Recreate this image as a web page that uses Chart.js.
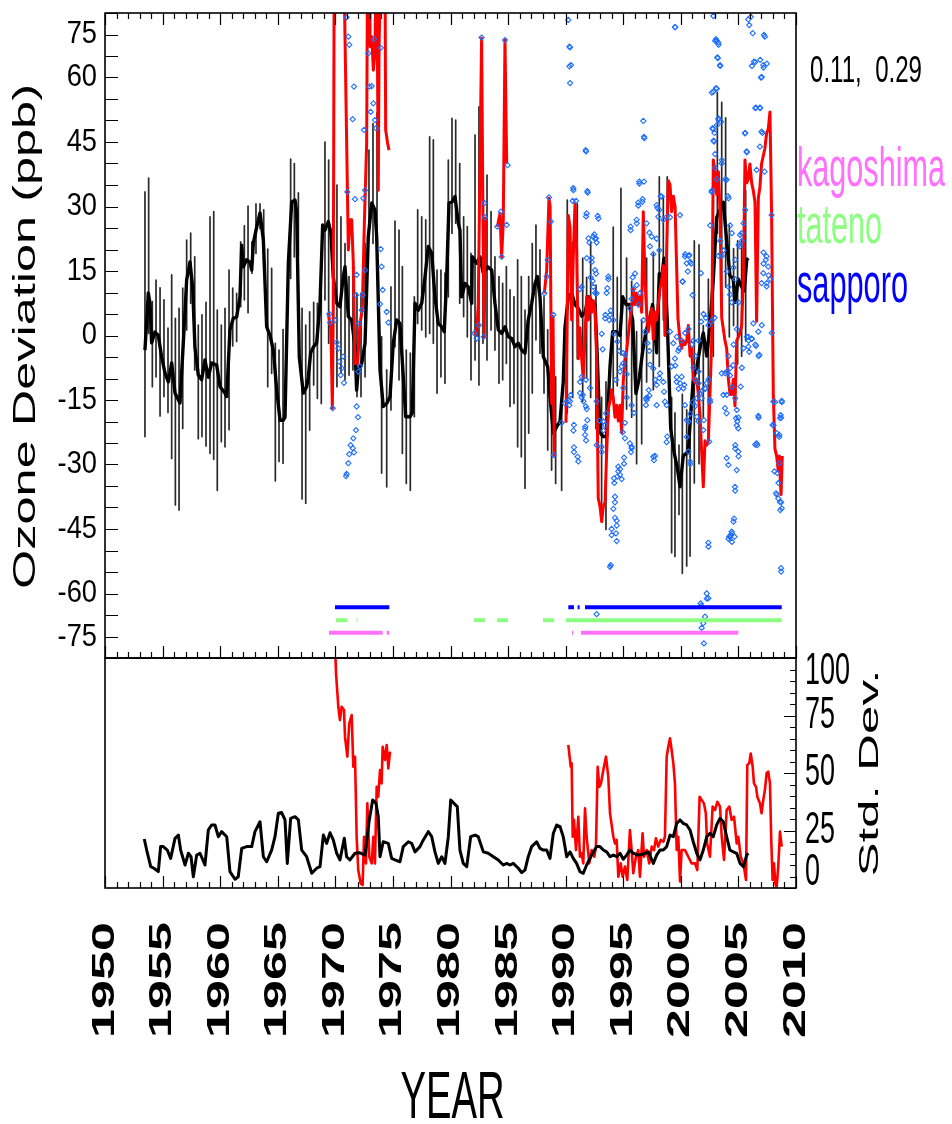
<!DOCTYPE html>
<html>
<head>
<meta charset="utf-8">
<script src="https://cdn.jsdelivr.net/npm/chart.js@4.4.1/dist/chart.umd.min.js"></script>
<style>
  body { margin: 0; background: #fff; }
  #wrap { position: relative; width: 952px; height: 1124px; }
  #wrap canvas { position: absolute; left: 0; top: 0; }
</style>
</head>
<body>
<div id="wrap">
  <canvas id="dev" width="952" height="1124"></canvas>
  <canvas id="sd" width="952" height="1124"></canvas>
</div>
<script>
/* ---- data ---- */

const yearTicks = [1950, 1955, 1960, 1965, 1970, 1975, 1980, 1985, 1990, 1995, 2000, 2005, 2010];
const devTicks = [-75, -60, -45, -30, -15, 0, 15, 30, 45, 60, 75];
const sdTicks = [0, 25, 50, 75, 100];
const corrLabel = '0.11,  0.29';

const stationNames = ['kagoshima', 'tateno', 'sapporo'];
const stationColors = ['#ff70ff', '#8cff80', '#0000ff'];
const stationLevels = [-69.1, -66.2, -63.2];
const kagoshimaSpans = [[1969.45, 1974.11], [1974.46, 1974.69], [1990.55, 1990.66], [1991.33, 2004.99]];
const tatenoSpans = [[1970.06, 1971.04], [1971.85, 1971.94], [1982.04, 1982.99], [1984.04, 1984.99], [1988.03, 1988.99], [1990.03, 2008.76]];
const sapporoSpans = [[1969.97, 1974.69], [1990.23, 1990.72], [1991.04, 1991.21], [1991.68, 2008.76]];

// smoothed deviation (black)
const blackDev = [
  [1953.47,-3.4],[1953.76,9.9],[1953.91,7.5],[1954.05,-1.7],[1954.34,0.8],[1954.63,0],[1954.92,-5],[1955.21,-8.7],
  [1955.50,-10.8],[1955.79,-6.4],[1956.08,-13.4],[1956.51,-15.7],[1956.80,-1.7],[1957.09,12.9],[1957.38,17.1],
  [1957.61,11.3],[1957.81,-2.7],[1958.10,-9.2],[1958.39,-10.3],[1958.68,-5.7],[1958.97,-9.7],[1959.26,-6.4],
  [1959.70,-6.9],[1959.99,-11.9],[1960.42,-13.4],[1960.57,-14.2],[1960.85,1.3],[1961.14,4],[1961.43,4.3],
  [1961.72,9],[1961.87,21],[1962.01,16],[1962.30,17.6],[1962.59,17],[1962.74,15.2],[1962.88,21.5],[1963.17,25.2],
  [1963.46,28.5],[1963.75,22.2],[1964.04,2],[1964.33,0],[1964.62,-3.4],[1964.91,-12.7],[1965.20,-19.7],
  [1965.48,-19.7],[1965.63,-19],[1965.92,16.9],[1966.21,31],[1966.50,31.5],[1966.64,28.7],[1966.87,-5],
  [1967.22,-13.4],[1967.51,-11.9],[1967.65,-9.7],[1967.86,-4],[1968.09,-2.7],[1968.38,-1.7],[1968.67,7.5],
  [1968.90,25.7],[1969.10,24.5],[1969.39,26.5],[1969.62,23.8],[1969.82,13.7],[1970.12,7.5],[1970.40,6.7],
  [1970.69,13.7],[1970.84,16],[1970.99,9.8],[1971.13,4.4],[1971.42,3.6],[1971.71,-2.6],[1971.85,-12.7],
  [1971.99,-8],[1972.29,-6.5],[1972.58,-1.8],[1972.86,23],[1973.16,30.8],[1973.44,29.2],[1973.59,23],
  [1973.88,-8],[1974.16,-16.5],[1974.46,-15.8],[1974.75,-14.2],[1975.03,-1.8],[1975.33,3.6],[1975.61,2.8],
  [1975.90,-9.6],[1976.11,-18.9],[1976.48,-18.9],[1976.68,-18],[1976.92,7.5],[1977.20,5.9],[1977.50,7.5],
  [1977.79,13.7],[1978.07,20.7],[1978.37,19.1],[1978.65,9],[1978.94,2.8],[1979.24,2],[1979.46,0.9],
  [1979.67,13.7],[1979.87,30.8],[1980.16,31.1],[1980.39,32.3],[1980.68,26.1],[1980.82,24.5],[1980.97,9],
  [1981.26,12.1],[1981.54,11.3],[1981.84,7.5],[1981.89,18.3],[1982.27,16.8],[1982.56,18.3],[1982.85,14.5],
  [1983.23,16],[1983.58,15.2],[1983.86,7.5],[1984.15,1.3],[1984.44,0.5],[1984.73,2],[1985.02,-0.3],
  [1985.31,-0.7],[1985.60,-2.6],[1985.89,-1.8],[1986.18,-3.4],[1986.47,-4.1],[1986.75,3.6],[1987.05,7.5],
  [1987.34,12.1],[1987.54,13.7],[1987.77,9],[1988.06,-4.9],[1988.44,-7.3],[1988.64,-14.2],[1988.93,-22.7],
  [1989.22,-21.2],[1989.51,-20],[1989.79,-10.8],[1989.94,1.8],[1990.23,9],[1990.52,9.9],[1990.81,7.2],
  [1991.10,6.3],[1991.39,4.5],[1991.68,5.4],[1991.97,9],[1992.26,8.1],[1992.55,7.2],[1992.75,-5.4],
  [1992.98,-22.6],[1993.27,-23.5],[1993.56,-23.5],[1993.85,-7.2],[1994.08,0.9],[1994.37,0.9],[1994.72,0],
  [1994.95,9],[1995.24,7.2],[1995.52,7.2],[1995.82,3.6],[1996.10,-13.5],[1996.39,-9.9],[1996.69,-3.6],
  [1996.97,0.9],[1997.26,3.6],[1997.55,7.2],[1997.90,-4],[1998.13,14.4],[1998.34,13.5],[1998.54,18],
  [1998.82,3.6],[1999.12,-21.7],[1999.41,-27.1],[1999.69,-30.7],[1999.93,-35.2],[2000.21,-28],[2000.65,-27],
  [2000.79,-20.9],[2001.08,-10.2],[2001.38,-7.5],[2001.66,-3],[2001.95,0.6],[2002.25,-4.8],[2002.53,2.3],
  [2002.82,13.1],[2003.11,27.4],[2003.40,29.2],[2003.69,31],[2003.98,22],[2004.26,14],[2004.55,13.1],
  [2004.70,7.7],[2004.99,13.1],[2005.28,11.3],[2005.51,10.4],[2005.72,17.6],[2005.86,18]
];

// vertical spread bars: [year, high, low]
const spreadBars = [
  [1953.47,33.4,-23.5],[1953.79,36.6,0.5],[1954.11,7.9,-11.9],[1954.43,12.9,-9.6],[1954.78,11.1,-18.7],
  [1955.12,8.3,-14.2],[1955.47,1.7,-17.9],[1955.79,14.1,-28.6],[1956.11,4,-39.4],[1956.43,6.3,-40.6],
  [1956.75,11,-21.6],[1957.09,22.2,1.3],[1957.44,23.8,7.5],[1957.79,18.3,-8],[1958.10,2.4,-24],
  [1958.42,4.8,-23.5],[1958.77,7.7,-25.7],[1959.12,27.6,-27.4],[1959.44,28.8,-28.8],[1959.75,5.9,-36],
  [1960.10,2.4,-24.7],[1960.42,6.3,-25.9],[1960.77,15.2,-21.9],[1961.09,11,-2.4],[1961.43,9.8,-1.4],
  [1961.78,21.8,6.7],[1962.10,25.5,8.3],[1962.42,30.1,5.3],[1962.76,21.8,14.5],[1963.11,30.6,19.1],
  [1963.46,30.6,24.9],[1963.78,29.2,16.8],[1964.13,20.1,-11.9],[1964.47,15.6,-8.8],[1964.79,-1.8,-33.8],
  [1965.11,-3.4,-29.3],[1965.46,1.4,-29.7],[1966.12,41,13.3],[1966.44,40,18.3],[1966.79,33.2,18.7],
  [1967.11,6.3,-38],[1967.43,2.4,-39],[1967.77,5.5,-22],[1968.12,7.7,-11.5],[1968.44,7.5,-14.6],
  [1968.78,9.8,-15.8],[1969.10,45,8.3],[1969.42,40.8,-1.8],[1970.14,35,-11.9],[1970.49,27.6,-8.8],
  [1970.84,21.4,-10.3],[1971.19,13.7,-9.2],[1971.53,16.8,-8],[1971.88,9.8,-14.2],[1972.23,9.8,-14.2],
  [1972.58,21.4,-9.6],[1972.92,43.1,24.5],[1973.27,49.3,21.4],[1973.62,51.7,23],[1974.02,-0.3,-32],
  [1974.46,-8,-35.2],[1974.83,11.3,-17.3],[1975.18,26.6,-2.6],[1975.53,24.5,-10.3],[1975.82,16,-27.4],
  [1976.16,-3.4,-34.4],[1976.51,-4.1,-36],[1976.86,9,-18.9],[1977.15,29.2,2.8],[1977.50,27.6,1.3],
  [1977.85,26.9,-0.3],[1978.19,46.2,0.5],[1978.51,45.5,-1.8],[1978.83,15.2,-13.4],[1979.17,15.2,-9.6],
  [1979.52,14.5,-11.1],[1979.81,40.8,9],[1980.13,50.5,23.8],[1980.45,50.1,26.1],[1980.80,40,7.5],
  [1981.14,27.6,4.4],[1981.46,25.3,-0.3],[1981.78,19.1,-10.3],[1982.13,46.6,-5.7],[1982.47,53.2,-11.5],
  [1982.82,29.2,-1.8],[1983.17,37.3,-5.7],[1983.52,28.8,1.3],[1983.86,18.3,-3.4],[1984.21,13.7,-11.1],
  [1984.53,12.1,-10.3],[1984.85,16,-6.5],[1985.17,10.6,-16.5],[1985.51,9,-15.8],[1985.83,17.6,-25.9],
  [1986.15,13.7,-28.2],[1986.47,5.9,-35.5],[1986.79,13.7,-22.7],[1987.10,21.4,-13.4],[1987.42,25.7,-1],
  [1987.77,19.9,-4.1],[1988.12,9,-13.4],[1988.44,1.3,-26.6],[1988.78,-11.9,-31.3],[1989.13,-9.6,-34.4],
  [1989.65,-14.4,-36],[1990.14,31.5,-18],[1990.61,21.6,-14.4],[1991.01,30.6,-5.4],[1991.48,18,-15.3],
  [1991.82,13.5,-9.9],[1992.17,21.6,-14.4],[1992.63,11.7,-21.7],[1993.12,-14.4,-43.3],[1993.50,-10.8,-45.1],
  [1994.13,25.2,-14.4],[1994.48,13.5,-11.7],[1994.80,34.2,-4.5],[1995.29,18,-17.1],[1995.73,12.6,-19],
  [1996.16,0.9,-29.8],[1996.60,3.6,-25.2],[1997.03,18,-10.8],[1997.61,19,-12.6],[1998.13,36.9,-7.2],
  [1998.48,32.4,3.6],[1998.82,36.9,0.9],[1999.20,-14.4,-50.5],[1999.49,-18,-51.4],[1999.84,-25.5,-41.6],
  [2000.13,-13.7,-55.3],[2000.51,-17.3,-53.6],[2000.80,-19.1,-51.3],[2001.17,22,-34.3],[2001.58,21.1,-29.8],
  [2001.95,2.3,-19.1],[2002.39,13.1,-24.5],[2002.82,23.8,-4.8],[2003.17,56.5,23.8],[2003.55,54.2,4.1],
  [2003.89,50.6,11.3],[2004.21,25.6,-0.3],[2004.58,20.2,2.3],[2004.93,22,-6.6],[2005.28,22,-4.8],
  [2005.63,33.7,-1.2]
];

// station deviation (red), null = gap
const redDev = [
  [1969.39,5.2],[1969.62,1.3],[1969.74,-16.9],[1969.82,5.9],[1969.91,95],[1970.69,95],[1971.13,19.9],
  [1971.27,26.9],[1971.42,26.9],[1971.56,16.8],[1971.71,-6.5],[1971.94,-6.5],[1972.14,2.8],[1972.34,5.9],
  [1972.52,26.1],[1972.72,44.7],[1972.81,95],[1972.95,90],[1973.01,67.2],[1973.16,69.5],[1973.30,61.7],
  [1973.44,65.6],[1973.59,95],[1973.73,33.8],[1973.80,68],[1974.02,95],[1974.30,95],[1974.37,47.8],
  [1974.54,44.7],[1974.66,43.1],[1978,null],
  [1982.07,0.9],[1982.27,0.1],[1982.41,7.5],[1982.70,69.1],[1982.82,27.6],[1982.93,-0.3],[1983.03,27.6],[1983.5,null],
  [1984.07,25.3],[1984.30,28.4],[1984.44,18.3],[1984.58,26.1],[1984.73,68.7],[1984.88,40],[1986,null],
  [1988.15,9.8],[1988.35,15.2],[1988.55,31.9],[1988.65,30],[1988.78,-15.8],[1988.90,4.4],[1989.01,-28.2],[1989.5,null],
  [1990.03,-20.3],[1990.23,27.9],[1990.38,25.2],[1990.52,3.6],[1990.66,18],[1990.81,30.6],[1990.95,20.7],
  [1991.10,-5.4],[1991.24,1.8],[1991.39,-5.4],[1991.53,-9.9],[1991.68,0],[1991.82,9],[1991.97,3.6],
  [1992.11,9],[1992.26,5.4],[1992.40,8.1],[1992.55,6.3],[1992.69,-5.4],[1992.83,-37.9],[1992.98,-39.7],
  [1993.13,-43.3],[1993.27,-39.7],[1993.42,-38.8],[1993.56,-27.1],[1993.70,-17.1],[1993.85,-15.3],
  [1993.99,-12.6],[1994.13,-14.4],[1994.28,-19],[1994.43,-16.2],[1994.57,-19.9],[1994.72,-16.2],
  [1994.86,-22.6],[1995.00,-10.8],[1995.15,-5.4],[1995.29,-3.6],[1995.44,0],[1995.58,3.6],[1995.73,6.3],
  [1995.87,10.8],[1996.02,7.2],[1996.16,9.9],[1996.31,7.2],[1996.45,9],[1996.60,5.4],[1996.74,28.8],
  [1996.89,12.6],[1997.03,5.4],[1997.18,0.9],[1997.32,3.6],[1997.47,6.3],[1997.61,-0.9],[1997.76,5.4],
  [1997.90,3.6],[1998.04,7.2],[1998.19,10.8],[1998.33,12.6],[1998.48,16.2],[1998.62,0],[1998.77,19.8],
  [1998.91,36],[1999.06,35.1],[1999.20,28.8],[1999.35,32.4],[1999.50,30],[1999.75,4],[1999.93,-1.2],
  [2000.07,-3],[2000.21,-1.2],[2000.36,-2.1],[2000.51,-1.2],[2000.65,2.3],[2000.80,-4.8],[2000.94,-3],
  [2001.08,-10.2],[2001.23,-11],[2001.38,-10.2],[2001.52,-13.7],[2001.66,-18.2],[2001.81,-27.2],
  [2001.95,-35.2],[2002.10,-24.5],[2002.25,-25.5],[2002.39,-24.5],[2002.53,-13.7],[2002.68,-1.2],
  [2002.82,40.8],[2002.97,38.1],[2003.11,32.8],[2003.26,38.1],[2003.40,29.2],[2003.55,4.1],[2003.69,1.5],
  [2003.83,-1.2],[2003.98,-3],[2004.13,-10.2],[2004.27,-13.7],[2004.41,-13.7],[2004.56,-10.2],
  [2004.70,-16.4],[2004.85,-1.2],[2004.99,-0.4],[2005.14,0.6],[2005.28,2.3],[2005.43,13.1],[2005.57,40.8],
  [2005.72,35.5],[2005.86,36.4],[2006.00,39.9],[2006.15,35.5],[2006.29,33.7],[2006.44,31],[2006.58,3.3],
  [2006.73,31.9],[2006.87,34.6],[2007.01,39.9],[2007.16,41.8],[2007.30,43.5],[2007.45,47.1],[2007.59,48],
  [2007.74,52],[2007.88,28.3],[2008.03,-13.7],[2008.17,-26.3],[2008.32,-28.1],[2008.46,-31.5],
  [2008.55,-28],[2008.70,-37],[2008.81,-28]
];

// individual soundings (blue diamonds)
const dots1970s = [
  [1970.98,74],[1971.13,69.5],[1971.21,67.6],[1971.62,57.9],[1971.51,50.3],[1971.71,31.7],[1971.04,33.4],
  [1972.49,47.8],[1972.43,31.9],[1972.58,33.8],[1972.86,65.6],[1972.95,57.9],[1973.16,58],[1973.07,52],
  [1973.30,54],[1973.36,68.9],[1973.44,50.1],[1973.53,48.2],[1973.94,66.9],[1973.94,20.1],[1974.02,16],
  [1974.11,10.6],[1973.88,7.3],[1974.46,5.5],[1974.60,3],[1971.85,14.1],[1971.79,9.4],[1972.08,2.8],
  [1972.29,5.9],[1972.37,9.4],[1972.58,15.2],[1969.48,5],[1969.54,3],[1970.00,3.6],[1970.12,-1.6],
  [1970.26,-3],[1970.35,-6.1],[1970.55,-7.6],[1970.47,-9.2],[1970.75,-11],[1970.69,-4.9],[1969.77,-16.9],
  [1971.85,-16.5],[1971.97,-19],[1971.79,-22],[1971.56,-23.9],[1971.33,-25.5],[1971.51,-26.2],
  [1971.62,-27.2],[1971.21,-27.6],[1971.13,-29.7],[1970.98,-32.2],[1970.93,-32.7],[1972.14,-7.2],[1971.99,-8.4]
];
const dots1980s = [
  [1984.07,25.3],[1984.38,28.8],[1984.44,18.3],[1984.88,25.7],[1984.96,39.6],[1984.73,68.7],[1982.70,69.3],
  [1982.07,0.5],[1982.27,-0.7],[1982.88,-0.3],[1982.47,2.4],[1982.93,30.8],[1982.99,27.5],[1988.15,9.8],
  [1988.35,13.7],[1988.44,17.6],[1988.55,32.1],[1988.72,26.5],[1988.93,4.8],[1988.96,-27.8]
];
const dotsHigh = [
  [1990.23,73.4],[1990.32,67.2],[1990.46,62.9],[1990.38,58.7],[1991.74,43.1],[1990.66,34.3],[1991.88,33.6],
  [1990.61,31.3],[1990.90,31.3],[1991.82,28.4],[1992.78,27.8],[1991.97,22.6],[1992.49,23.5],[1992.63,22.6],
  [1992.26,18],[1992.55,15.2],[1992.34,12.7],[1992.69,9.8],[1993.70,13.7],[1993.62,11],[1993.85,4.8],
  [1993.44,4.8],[1999.49,71.7],[1996.74,49.9],[1996.80,46.2],[1996.39,35.8],[1996.80,35.8],[1996.68,31.7],
  [1996.30,30.9],[1996.16,26.9],[1995.64,25.3],[1997.90,30.3],[1998.13,29.2],[1998.34,32.3],[1998.48,26.9],
  [1998.04,27.6],[1998.77,27.6],[1999.93,28],[2000.36,18.4],[2000.73,18.7],[2000.51,16.8],[2000.16,12.5],
  [2001.75,14.5],[2001.02,9.4],[2002.82,74.3],[2003.05,68.9],[2003.26,68.1],[2003.17,64.7],[2003.40,62.9],
  [2002.82,56.7],[2003.05,57.5],[2003.26,50.5],[2003.49,49.7],[2002.76,48.2],[2002.88,45.1],[2002.97,42.2],
  [2003.55,40],[2003.98,36.2],[2004.09,32.4],[2002.67,33.4],[2005.28,23.8],[2005.14,20.7],[2005.57,47],
  [2005.72,42.8],[2006.58,38.5],[2006.87,43.9],[2007.01,47.4],[2007.16,62.9],[2006.96,60],[2006.35,63.7],
  [2006.53,53],[2006.87,53],[2005.86,73.5],[2005.94,72.2],[2006.24,70.3],[2006.07,74.1],[2007.22,69.9],
  [2007.30,69.5],[2007.88,28],[2007.45,18.4],[2007.59,16],[2007.16,14.5],[2007.01,12.2],[2007.45,11.4],
  [2006.29,2.8],[2006.73,0.9],[2005.86,-0.3],[2006.15,-0.7]
];
const dotsLow = [
  [1991.39,-9.6],[1991.76,-10.3],[1991.24,-13.4],[1991.48,-13.8],[1991.76,-16.5],[1990.72,-20.8],
  [1991.04,-28.2],[1990.72,-26],[1991.88,-19.7],[1991.71,-21.2],[1991.68,-23.1],[1990.44,-13.8],
  [1990.26,-15],[1993.12,-25.9],[1992.69,-25.5],[1993.50,-18.1],[1993.27,-20],[1994.72,-32.4],
  [1994.48,-32.8],[1994.20,-33.2],[1994.28,-37.5],[1994.14,-40.3],[1994.43,-43.1],[1994.37,-46],
  [1993.99,-45],[1993.85,-53.8],[1993.91,-53.4],[1995.15,-23.9],[1995.58,-25.1],[1995.73,-25.9],
  [1995.07,-28.4],[1994.57,-30.5],[1994.37,-10.3],[1994.72,-8.4],[1995.00,-6.5],[1997.61,-28.2],
  [1997.67,-29],[1997.03,-15],[1996.97,-14.6],[1997.21,-12.7],[1997.76,-10.3],[1997.90,-11.5],
  [1998.19,-8.8],[1998.62,-15.4],[1998.82,-23.5],[1999.93,-11.1],[2000.07,-9.6],[2000.30,-11.5],
  [2000.36,-16.2],[2000.21,-12.3],[2000.51,-19.7],[2000.65,-27],[2000.80,-29.3],[2001.38,-18.9],
  [2001.66,-13.4],[2001.81,-14.6],[2002.00,-19.7],[2001.95,-22],[2002.47,-24.7],[2002.39,-48.2],
  [2002.53,-15],[2002.25,-11.1],[2002.10,-12.3],[2003.55,-8.8],[2003.69,-13.8],[2003.83,-16.9],
  [2003.98,-18.1],[2003.98,-28.5],[2004.13,-30.1],[2003.98,-8.4],[2004.27,-7.6],[2004.55,-6.9],
  [2004.79,-19.2],[2004.90,-20],[2004.99,-21.6],[2004.73,-25.5],[2004.99,-27],[2004.85,-31.3],
  [2004.70,-35.2],[2004.62,-42.6],[2004.41,-45.6],[2004.33,-46.4],[2004.21,-46.8],[2004.44,-48],
  [2005.20,-11.9],[2005.94,-3.8],[2005.86,-2.6],[2006.53,-2.4],[2006.82,-4.5],[2006.73,-18.7],
  [2006.58,-25.1],[2006.64,-25.5],[2008.03,-15.4],[2007.97,-20.8],[2008.32,-22.7],[2008.55,-23.1],
  [2008.61,-19.2],[2008.67,-18.5],[2008.76,-15.2],[2008.55,-29.7],[2008.38,-32],[2008.26,-36.7],
  [2008.46,-37.9],[2008.61,-38.7],[2008.76,-40.2],[2008.70,-54.1],[1992.69,-64.8],[2001.72,-62.3],
  [2002.25,-60],[2002.39,-61.1],[2002.10,-65.4],[2001.95,-66.9],[2001.81,-68],[2002.00,-71.6]
];
const dots1990s = [
  [1990.67,33.8],[1991.91,33.2],[1991.77,27.7],[1992.84,27.2],[1992.40,23],[1992.55,22.5],[1992.06,21.6],
  [1992.69,21.6],[1991.83,18],[1992.26,17.1],[1992.17,13.5],[1992.64,14.4],[1992.40,11.3],[1992.55,9.9],
  [1993.71,13.1],[1993.56,9.9],[1991.25,10.8],[1991.39,11.3],[1993.42,4],[1993.79,3.6],[1993.91,5.8],
  [1993.13,0.4],[1993.21,-3.2],[1994.14,3.6],[1994.20,0.4],[1994.49,-1.4],[1994.66,-3.6],[1995.01,-4.1],
  [1995.15,-4.5],[1994.86,-7.2],[1995.30,-9],[1995.01,-12.2],[1995.30,-14.4],[1995.73,-16.2],[1995.93,-18],
  [1995.15,-20.3],[1994.95,-22.5],[1994.72,-31.1],[1994.86,-33.4],[1994.57,-31.6],[1994.23,-34.3],
  [1994.28,-38.8],[1994.28,-42.4],[1994.43,-44.2],[1993.99,-46.4],[1994.43,-47.8],[1995.64,24.5],
  [1996.17,26.1],[1996.31,30.2],[1996.66,31.1],[1996.40,35.3],[1996.83,45.9],[1997.03,26.1],[1997.27,23.9],
  [1997.47,23],[1997.32,20.7],[1997.61,18.9],[1997.90,22.5],[1998.13,19.8],[1998.25,32.4],[1997.96,29.7],
  [1999.06,27.5],[1995.82,13.5],[1996.02,14.4],[1996.17,11.7],[1995.88,10.8],[1996.31,7.2],[1996.46,9.9],
  [1995.73,8.5],[1995.59,6.3],[1996.74,3.6],[1996.89,0.9],[1997.09,-1.8],[1997.27,-3.6],[1997.32,-6.8],
  [1997.61,-7.7],[1998.13,-9.9],[1998.48,-10.8],[1998.54,-13.1],[1998.77,-16.2],[1999.06,0.9],
  [1999.35,-1.8],[1999.49,-5.4],[1999.64,-10.8],[1999.78,-3.6],[1999.20,-7.2],[1997.90,-16.2],
  [1997.76,-28],[1996.97,-16.2],[1997.09,-14.4],[1997.27,-14],[1998.77,-24.8],[1995.73,-26.2],
  [1995.67,-27.1],[1995.07,-29.8],[1991.25,-10.8],[1991.39,-14.4],[1991.54,-15.3],[1991.83,-17.1],
  [1991.68,-21.7],[1991.77,-24.4],[1990.72,-27.1],[1991.10,-29.3],[1990.67,-22.1],[1990.38,-15.3],
  [1989.94,-15.8],[1990.32,-16.2],[1989.65,-20.3],[1992.11,-12.2],[1992.69,-15.3],[1992.93,-19.8],
  [1993.42,-20.8],[1993.27,-22.1],[1993.13,-27.1],[1990.32,62.6],[1990.38,67],[1991.77,42.8]
];
const dots2000s = [
  [1999.51,71.7],[2000.38,18.9],[2000.67,18.5],[2000.81,17.1],[2000.61,14.9],[2000.90,16.7],[2000.15,12.6],
  [1999.65,-0.3],[1999.86,-3],[2000.09,-1.2],[2000.38,0.6],[2000.67,1.5],[2000.96,-2.1],[2001.10,-1.2],
  [2001.25,-4.8],[2001.54,-1.2],[2001.77,3.2],[2001.97,5],[2002.17,4.1],[2002.40,2.4],[2002.64,3.2],
  [2002.93,4.1],[2001.10,-7.5],[2001.25,-10.2],[2001.54,-11.1],[2001.39,-14.6],[2000.81,-18.2],
  [2000.67,-20],[2000.52,-23.6],[2000.81,-29.9],[2001.54,-8.4],[2001.83,-12.9],[2002.12,-12.4],
  [2002.40,-10.2],[2002.55,-15.5],[2001.25,-16.4],[2001.54,-20],[2001.01,-15.5],[2002.40,-49.1],
  [2002.26,-61.2],[2001.77,-62.8],[2002.55,25.6],[2002.69,33.7],[2002.84,45.3],[2002.92,47.1],
  [2003.13,48.9],[2003.27,50.2],[2002.78,48],[2002.98,39],[2003.13,36.3],[2003.56,40.8],[2002.98,68.5],
  [2003.13,68.5],[2003.27,67.6],[2003.42,62.7],[2003.21,64.5],[2002.69,56.5],[2003.13,57.4],[2003.42,22],
  [2003.27,18.5],[2003.56,18.5],[2003.85,36.3],[2004.14,31.9],[2004.28,25.6],[2004.43,23.8],[2003.71,19.8],
  [2004.72,17.6],[2004.57,15.8],[2005.01,21.1],[2005.15,23.4],[2005.30,22],[2005.44,26.1],[2005.59,29.2],
  [2003.99,14.9],[2004.14,11.3],[2004.28,9.5],[2004.43,7.7],[2004.72,13.1],[2005.01,7.7],[2004.86,1.5],
  [2004.57,-2.1],[2004.14,-4.8],[2004.28,-9.3],[2003.85,-8.8],[2003.99,-13.8],[2004.43,-12],[2004.72,-14.6],
  [2004.86,-17.3],[2005.01,-19.1],[2004.86,-20.9],[2005.30,-7.5],[2005.44,-3],[2005.73,-0.3],[2005.88,-1.2],
  [2006.17,-0.8],[2006.46,-2.1],[2006.75,-4.8],[2004.72,-26.3],[2005.01,-28.1],[2004.72,-36.1],
  [2004.57,-43.3],[2004.28,-46.8],[2004.43,-46],[2004.14,-47.3],[2004.66,-46.8],[2006.46,-25.4],
  [2006.75,-19.1],[2005.59,47.1],[2005.73,42.6],[2006.17,62.7],[2006.46,63.6],[2006.89,64.1],[2007.03,60.1],
  [2007.18,62.3],[2007.47,63.2],[2006.46,52.9],[2006.89,52.9],[2007.09,47.1],[2007.27,38.1],[2007.18,19.3],
  [2007.38,17.6],[2007.18,16.7],[2007.61,14],[2007.47,12.2],[2007.76,13.1],[2007.03,2.4],[2007.90,0.6],
  [2008.19,-15.5],[2008.05,-20.9],[2008.13,-31.6],[2008.34,-37],[2008.48,-34.3],[2008.54,-23.6],
  [2008.71,-19.1],[2008.77,-15.5],[2008.71,-38.8],[2008.63,-40.6],[2008.71,-54.9],[1999.51,-7],
  [1999.65,-9.7],[1999.80,-12.4]
];

// standard deviation panel
const sdBlack = [
  [1953.41,21.3],[1953.62,16.5],[1953.97,9.3],[1954.25,8.6],[1954.63,7.1],[1954.83,18],[1955.06,18],
  [1955.41,16.5],[1955.70,12.9],[1956.08,21.6],[1956.37,23],[1956.57,16.5],[1956.95,10],[1957.24,15.1],
  [1957.47,13.6],[1957.67,4.9],[1957.96,14.3],[1958.25,15.1],[1958.68,10],[1958.97,25.2],[1959.26,27.4],
  [1959.55,27.4],[1959.84,22.3],[1960.13,24.5],[1960.57,22.3],[1960.85,7.1],[1961.29,3.8],[1961.57,4.9],
  [1961.87,17.2],[1962.30,18],[1962.74,18],[1963.02,24.5],[1963.46,28.8],[1963.75,13.6],[1964.04,11.4],
  [1964.47,16.5],[1964.76,22.3],[1965.05,32.5],[1965.34,32.8],[1965.63,29.6],[1965.83,10.7],[1966.12,30.3],
  [1966.50,31],[1966.79,29.6],[1967.08,16.5],[1967.51,13.6],[1967.95,6.4],[1968.38,8.6],[1968.67,9.3],
  [1968.96,23],[1969.25,19.4],[1969.54,24],[1969.82,20.9],[1970.12,15.1],[1970.40,12.2],[1970.78,21.6],
  [1970.98,13.6],[1971.27,12.2],[1971.71,15.1],[1972.14,15.3],[1972.58,14.3],[1972.95,29.6],[1973.24,38.3],
  [1973.53,36.8],[1973.73,31],[1973.88,13.6],[1974.16,20.1],[1974.60,19.4],[1974.89,12.9],[1975.18,12.2],
  [1975.61,11.4],[1975.90,18],[1976.34,20.1],[1976.63,19.4],[1976.92,15.7],[1977.35,18],[1977.64,20.9],
  [1978.07,24.5],[1978.37,22.3],[1978.65,15.7],[1978.94,10.7],[1979.24,13.6],[1979.52,10.7],[1979.81,22.3],
  [1980.02,38.3],[1980.30,36.8],[1980.59,35.4],[1980.82,16.5],[1981.11,10.7],[1981.41,9.3],[1981.75,22.3],
  [1982.13,23],[1982.41,22.3],[1982.85,15.7],[1983.28,15.1],[1983.72,13.6],[1984.15,12.2],[1984.58,10],
  [1984.88,10.7],[1985.17,10],[1985.45,10.7],[1985.89,8.6],[1986.18,6.7],[1986.47,7.8],[1986.75,13.6],
  [1987.05,18],[1987.48,20.1],[1987.77,17.2],[1988.06,16.5],[1988.35,16.5],[1988.64,12.9],[1988.93,23.8],
  [1989.22,27.4],[1989.51,26.7],[1989.79,22.3],[1990.09,13.6],[1990.38,15.7],[1990.66,12.9],[1990.95,10.7],
  [1991.24,7.1],[1991.53,6.4],[1991.82,10],[1992.26,14.3],[1992.69,18],[1992.98,18],[1993.27,16.5],
  [1993.56,15.7],[1993.85,13.6],[1994.14,14.3],[1994.43,13.6],[1994.72,15.1],[1995.00,12.5],[1995.29,14.3],
  [1995.58,16.5],[1995.87,15.1],[1996.30,14.3],[1996.74,14.8],[1997.18,15.7],[1997.61,10.7],[1997.90,14.3],
  [1998.19,16.5],[1998.48,16.5],[1998.77,18],[1999.06,23],[1999.35,22.3],[1999.64,28.1],[1999.93,29.6],
  [2000.21,28.1],[2000.51,27.4],[2000.80,25.2],[2001.08,20.1],[2001.38,15.1],[2001.66,12.2],[2001.95,16.5],
  [2002.25,22.3],[2002.53,23.8],[2002.82,22.3],[2003.11,27.4],[2003.40,30.3],[2003.69,28.8],[2003.98,22.3],
  [2004.26,16.5],[2004.55,15.7],[2004.85,15.1],[2005.14,10.7],[2005.43,9.3],[2005.72,14.3],[2005.86,15.1]
];
const sdRed = [
  [1969.95,110],[1970.06,93.3],[1970.26,78.8],[1970.40,73],[1970.55,78.8],[1970.75,77.4],[1970.84,65.8],
  [1971.04,57.1],[1971.21,71.6],[1971.42,75.2],[1971.56,52.7],[1971.71,57.1],[1971.85,22.3],[1971.99,7.8],
  [1972.20,2],[1972.37,1.3],[1972.49,22.3],[1972.66,10.7],[1972.78,36.8],[1972.95,13.6],[1973.16,10.7],
  [1973.30,22.3],[1973.44,10.7],[1973.59,44],[1973.73,39.7],[1973.88,51.3],[1974.02,45.5],[1974.11,61.4],
  [1974.31,55.7],[1974.46,62.2],[1974.60,52],[1974.75,59.3],[1982,null],
  [1990.23,62.2],[1990.44,52.7],[1990.52,54.2],[1990.61,22.3],[1990.72,29.6],[1990.90,16.5],[1991.10,31],
  [1991.24,13.6],[1991.39,15.1],[1991.53,10.7],[1991.68,34.6],[1991.82,22.3],[1992.05,10.7],[1992.26,16.5],
  [1992.49,13.6],[1992.63,18],[1992.78,52.7],[1992.92,44],[1993.07,45.5],[1993.27,51.3],[1993.50,57.1],
  [1993.70,48.4],[1993.85,32.5],[1994.14,22.3],[1994.28,19.4],[1994.43,20.9],[1994.57,4.9],[1994.78,10.7],
  [1994.95,4.9],[1995.15,9.3],[1995.35,3.5],[1995.58,25.2],[1995.73,16.5],[1995.87,6.4],[1996.10,13.6],
  [1996.30,16.5],[1996.45,4.9],[1996.68,23.8],[1996.80,13.6],[1997.03,16.5],[1997.26,10.7],[1997.47,18],
  [1997.67,16.5],[1997.84,21.6],[1998.04,18],[1998.25,20.9],[1998.48,20.1],[1998.62,22.3],[1998.77,57.1],
  [1998.91,61.4],[1999.06,65.1],[1999.20,60],[1999.35,54.2],[1999.49,45.5],[1999.64,16.5],[1999.78,22.3],
  [1999.93,2.8],[2000.07,16.5],[2000.36,16.5],[2000.65,13.6],[2000.94,10.7],[2001.23,10.7],[2001.43,7.8],
  [2001.63,39.7],[2001.81,38.3],[2002.00,36.8],[2002.17,32.5],[2002.28,19.4],[2002.53,13.6],[2002.76,35.4],
  [2002.97,33.9],[2003.17,37.5],[2003.40,35.4],[2003.55,22.3],[2003.75,12.2],[2003.98,33.9],[2004.21,35.4],
  [2004.41,29.6],[2004.62,31],[2004.85,19.4],[2004.99,22.3],[2005.20,13.6],[2005.43,10.7],[2005.66,3.5],
  [2005.77,53.5],[2005.94,54.2],[2006.07,58.5],[2006.24,52.7],[2006.35,45.5],[2006.53,44],[2006.64,39.7],
  [2006.87,36.8],[2007.01,32.5],[2007.16,38.3],[2007.30,42.6],[2007.45,49.9],[2007.59,50.6],[2007.74,45.5],
  [2007.85,20.9],[2007.97,3.5],[2008.09,10.7],[2008.20,2],[2008.32,0.3],[2008.46,9.3],[2008.61,24.5],
  [2008.76,18]
];

/* ---- helpers ---- */

const FONT = '"Liberation Sans", Arial, sans-serif';

function pts(list) {
  return list.map(p => ({ x: p[0], y: p[1] }));
}

function whiskers(list) {
  let out = [];
  list.forEach(b => out.push({ x: b[0], y: b[1] }, { x: b[0], y: b[2] }, { x: b[0], y: null }));
  return out;
}

function spanPts(spans, level) {
  let out = [];
  spans.forEach(s => out.push({ x: s[0], y: level }, { x: s[1], y: level }, { x: s[1], y: null }));
  return out;
}

// draw text, squeezed or stretched along its run (sx), or fitted to a width
function label(ctx, text, x, y, o) {
  ctx.save();
  ctx.font = (o.bold ? 'bold ' : '') + o.size + 'px ' + FONT;
  ctx.fillStyle = o.color || '#000';
  ctx.textAlign = o.align || 'left';
  ctx.textBaseline = o.base || 'alphabetic';
  let sx = o.sx || 1;
  if (o.width) sx = o.width / ctx.measureText(text).width;
  ctx.translate(x, y);
  if (o.rot) ctx.rotate(o.rot);
  ctx.scale(sx, 1);
  ctx.fillText(text, 0, 0);
  ctx.restore();
}

function box(ctx, a) {
  ctx.strokeStyle = '#000';
  ctx.lineWidth = 1.6;
  ctx.strokeRect(a.left, a.top, a.right - a.left, a.bottom - a.top);
}

function lineDs(data, color, width) {
  return {
    data: data, borderColor: color, borderWidth: width, pointRadius: 0,
    tension: 0, fill: false, spanGaps: false, borderCapStyle: 'butt', borderJoinStyle: 'round'
  };
}

/* ---- decorations drawn through the chart scales ---- */

const devDeco = {
  id: 'devDeco',
  afterDatasetsDraw(chart) {
    const ctx = chart.ctx, a = chart.chartArea, xs = chart.scales.x, ys = chart.scales.y;
    ctx.save();
    box(ctx, a);
    ctx.lineWidth = 1.2;
    ctx.beginPath();
    for (let yr = 1950; yr <= 2010; yr++) {
      const x = Math.round(xs.getPixelForValue(yr)) + 0.5;
      const len = yr % 5 === 0 ? 12 : 6;
      ctx.moveTo(x, a.top); ctx.lineTo(x, a.top + len);
      ctx.moveTo(x, a.bottom); ctx.lineTo(x, a.bottom - len);
    }
    for (let v = -75; v <= 75; v += 5) {
      const y = Math.round(ys.getPixelForValue(v)) + 0.5;
      ctx.moveTo(a.left, y); ctx.lineTo(a.left + 13, y);
    }
    ctx.stroke();
    ctx.restore();

    devTicks.forEach((v, i) => {
      let y = ys.getPixelForValue(v);
      if (i === 0) y -= 21;
      if (i === devTicks.length - 1) y += 21;
      label(ctx, String(v), a.left - 8, y, { size: 31, sx: 0.88, align: 'right', base: 'middle' });
    });

    label(ctx, 'Ozone Deviation (ppb)', 35, (a.top + a.bottom) / 2 + 1,
      { size: 31, width: 505, align: 'center', rot: -Math.PI / 2 });

    label(ctx, corrLabel, a.right + 14, 82, { size: 37, width: 112 });

    const bases = [186, 243, 302], widths = [148, 85, 111];
    stationNames.forEach((n, i) => {
      label(ctx, n, a.right + 1, bases[i], { size: 55, width: widths[i], color: stationColors[i] });
    });
  }
};

const sdDeco = {
  id: 'sdDeco',
  afterDatasetsDraw(chart) {
    const ctx = chart.ctx, a = chart.chartArea, xs = chart.scales.x, ys = chart.scales.y;
    ctx.save();
    box(ctx, a);
    ctx.lineWidth = 1.2;
    ctx.beginPath();
    for (let yr = 1950; yr <= 2010; yr++) {
      const x = Math.round(xs.getPixelForValue(yr)) + 0.5;
      const len = yr % 5 === 0 ? 12 : 6;
      ctx.moveTo(x, a.bottom); ctx.lineTo(x, a.bottom - len);
    }
    for (let v = 0; v <= 100; v += 5) {
      const y = Math.round(ys.getPixelForValue(v)) + 0.5;
      const len = v % 25 === 0 ? 12 : 6;
      ctx.moveTo(a.right, y); ctx.lineTo(a.right - len, y);
    }
    ctx.stroke();
    ctx.restore();

    sdTicks.forEach((v, i) => {
      let y = ys.getPixelForValue(v);
      if (i === 0) y -= 15;
      if (i === sdTicks.length - 1) y += 14;
      label(ctx, String(v), a.right + 9, y, { size: 45, sx: 0.6, base: 'middle' });
    });

    label(ctx, 'Std. Dev.', 878, (a.top + a.bottom) / 2,
      { size: 28, width: 207, align: 'center', rot: -Math.PI / 2 });

    yearTicks.forEach(yr => {
      label(ctx, String(yr), xs.getPixelForValue(yr), 980,
        { size: 31, width: 116, align: 'center', base: 'middle', rot: -Math.PI / 2, bold: true });
    });

    label(ctx, 'YEAR', (a.left + a.right) / 2 + 2, 1118, { size: 66, width: 104, align: 'center' });
  }
};

/* ---- charts ---- */

Chart.defaults.font.family = FONT;

const diamonds = {
  data: pts([].concat(dots1970s, dots1980s, dotsHigh, dotsLow, dots1990s, dots2000s)),
  showLine: false, pointStyle: 'rectRot', pointRadius: 2.6, pointBorderWidth: 1.1,
  pointBorderColor: '#1f6fff', pointBackgroundColor: 'rgba(255,255,255,0)', borderColor: '#1f6fff'
};

new Chart(document.getElementById('dev'), {
  type: 'line',
  data: {
    datasets: [
      lineDs(spanPts(sapporoSpans, stationLevels[2]), stationColors[2], 4),
      lineDs(spanPts(tatenoSpans, stationLevels[1]), stationColors[1], 4),
      lineDs(spanPts(kagoshimaSpans, stationLevels[0]), stationColors[0], 4),
      diamonds,
      lineDs(pts(redDev), '#ff0000', 3),
      lineDs(pts(blackDev), '#000000', 3.4),
      lineDs(whiskers(spreadBars), '#2a2a2a', 1.7)
    ]
  },
  options: {
    responsive: false, animation: false, devicePixelRatio: 1, events: [],
    layout: { padding: { left: 105, right: 156, top: 13, bottom: 466 } },
    plugins: { legend: { display: false }, tooltip: { enabled: false } },
    scales: {
      x: { type: 'linear', min: 1950, max: 2010, display: false },
      y: { type: 'linear', min: -75, max: 75, display: false }
    }
  },
  plugins: [devDeco]
});

new Chart(document.getElementById('sd'), {
  type: 'line',
  data: {
    datasets: [
      lineDs(pts(sdBlack), '#000000', 3),
      lineDs(pts(sdRed), '#ff0000', 2.6)
    ]
  },
  options: {
    responsive: false, animation: false, devicePixelRatio: 1, events: [],
    layout: { padding: { left: 105, right: 156, top: 658, bottom: 236 } },
    plugins: { legend: { display: false }, tooltip: { enabled: false } },
    scales: {
      x: { type: 'linear', min: 1950, max: 2010, display: false },
      y: { type: 'linear', min: 0, max: 100, display: false }
    }
  },
  plugins: [sdDeco]
});
</script>
</body>
</html>
